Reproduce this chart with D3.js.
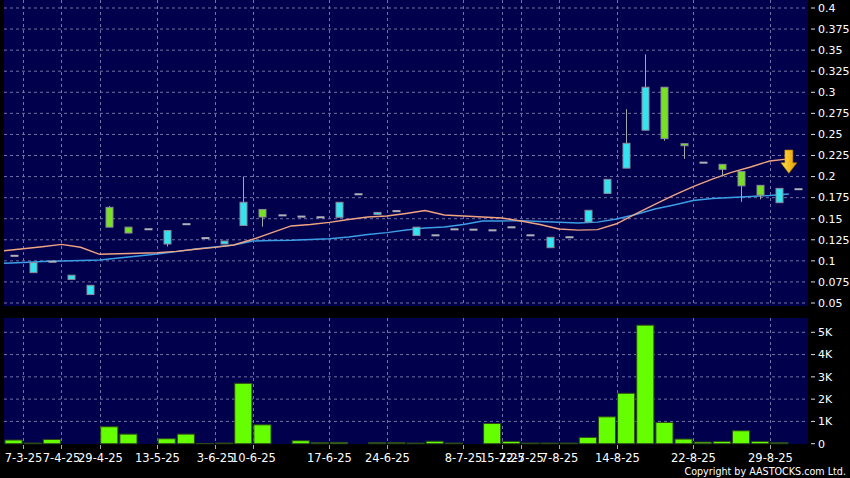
<!DOCTYPE html>
<html><head><meta charset="utf-8">
<script src="https://cdn.jsdelivr.net/npm/d3@7"></script>
<style>html,body{margin:0;padding:0;background:#000;} svg{display:block;}</style>
</head><body>
<svg id="c" width="850" height="478"></svg>
<script>
// ---- data ----
const categories = ["1","2","3","4","5","6","7","8","9","10","11","12","13","14","15","16","17","18","19","20","21",
  "22","23","24","25","26","27","28","29","30","31","32","33","34","35","36","37","38","39","40","41","42"];
const openP  = [0.106,0.086,0.099,0.078,0.060,0.1635,0.140,0.1375,0.120,0.1435,0.127,0.120,0.142,0.161,0.154,0.1525,0.1517,0.1517,0.179,0.1555,0.159,
  0.130,0.1303,0.1374,0.137,0.1362,0.1398,0.1303,0.1156,0.128,0.146,0.180,0.210,0.255,0.306,0.239,0.2165,0.2145,0.206,0.1896,0.169,0.185];
const highP  = [0.106,0.098,0.099,0.083,0.071,0.165,0.140,0.1375,0.136,0.1435,0.127,0.1235,0.200,0.161,0.154,0.1525,0.1517,0.1695,0.179,0.1575,0.159,
  0.140,0.1303,0.1374,0.137,0.1362,0.1398,0.1303,0.128,0.128,0.160,0.1967,0.280,0.345,0.306,0.239,0.2165,0.2145,0.206,0.1896,0.186,0.185];
const lowP   = [0.106,0.086,0.099,0.078,0.060,0.140,0.133,0.1375,0.117,0.1435,0.127,0.120,0.142,0.1406,0.154,0.1525,0.1517,0.1517,0.179,0.1555,0.159,
  0.130,0.1303,0.1374,0.137,0.1362,0.1398,0.1303,0.1156,0.128,0.146,0.180,0.210,0.255,0.2425,0.221,0.2165,0.200,0.170,0.173,0.169,0.185];
const closeP = [0.106,0.098,0.099,0.083,0.071,0.140,0.133,0.1375,0.136,0.1435,0.127,0.1235,0.1695,0.152,0.154,0.1525,0.1517,0.1695,0.179,0.1575,0.159,
  0.140,0.1303,0.1374,0.137,0.1362,0.1398,0.1303,0.128,0.128,0.160,0.1967,0.2395,0.306,0.245,0.2366,0.2165,0.2086,0.189,0.178,0.186,0.185];
const volume = [165,30,190,0,0,760,430,0,223,430,10,30,2710,848,0,134,45,60,0,45,45,
  30,110,30,0,906,103,30,30,30,283,1205,2263,5320,952,208,74,103,580,103,45,0];
const maOrange = [0.112,0.1144,0.1168,0.1196,0.1161,0.1078,0.1085,0.109,0.1097,0.1113,0.1137,0.116,0.1188,0.1256,0.1334,0.1414,0.1432,0.1456,0.1491,0.152,0.1532,
  0.1562,0.1597,0.1544,0.1532,0.152,0.1508,0.1473,0.1432,0.1378,0.1365,0.137,0.144,0.1556,0.167,0.178,0.188,0.197,0.205,0.2114,0.2185,0.221];
const maBlue = [0.0971,0.098,0.0992,0.0998,0.1004,0.101,0.1034,0.1057,0.1081,0.111,0.114,0.1164,0.1188,0.1236,0.1242,0.1244,0.1253,0.1263,0.1283,0.1312,0.1335,
  0.1366,0.139,0.1402,0.1432,0.1473,0.1473,0.1477,0.1467,0.1458,0.145,0.146,0.1497,0.155,0.1615,0.1663,0.1716,0.174,0.1752,0.1764,0.1775,0.1793];
const tickBars   = ["2","4","6","9","12","14","18","21","25","27","28","30","33","37","41"];
const tickLabels = ["7-3-25","7-4-25","29-4-25","13-5-25","3-6-25","10-6-25","17-6-25","24-6-25","8-7-25","15-7-25","22-7-25","7-8-25","14-8-25","22-8-25","29-8-25"];
const priceTicks = [0.05,0.075,0.1,0.125,0.15,0.175,0.2,0.225,0.25,0.275,0.3,0.325,0.35,0.375,0.4];
const volTicks = [0,1000,2000,3000,4000,5000];
const volTickLabels = ["0","1K","2K","3K","4K","5K"];
const signalBar = "42";
const signalTop = 0.2315, signalTip = 0.204;

// ---- layout ----
const svg = d3.select("#c");
const NAVY = "#00004c", GRID = "#7272a6";
const x = d3.scaleBand().domain(categories).range([4, 808]);
const y = d3.scaleLinear().domain([0.05, 0.4]).range([303, 8]);
const yv = d3.scaleLinear().domain([0, 5000]).range([443.7, 332.3]);
const bw = x.bandwidth();
const cx = c => x(c) + bw / 2;

svg.append("rect").attr("width", 850).attr("height", 478).attr("fill", "#000");
svg.append("rect").attr("x", 4).attr("y", 0).attr("width", 804).attr("height", 306).attr("fill", NAVY);
svg.append("rect").attr("x", 4).attr("y", 318).attr("width", 804).attr("height", 126).attr("fill", NAVY);

const font = "DejaVu Sans, sans-serif";
// horizontal grid + right axis (price)
priceTicks.forEach(v => {
  svg.append("line").attr("x1", 4).attr("x2", 808).attr("y1", y(v)).attr("y2", y(v))
    .attr("stroke", GRID).attr("stroke-dasharray", "3,3").attr("stroke-width", 1);
  svg.append("line").attr("x1", 811).attr("x2", 815).attr("y1", y(v)).attr("y2", y(v)).attr("stroke", "#ddd");
  svg.append("text").attr("x", 818).attr("y", y(v)).attr("dy", "0.35em").attr("fill", "#fff")
    .attr("font-family", font).attr("font-size", 11).text(String(+v.toFixed(3)));
});
volTicks.forEach((v, i) => {
  if (v > 0) svg.append("line").attr("x1", 4).attr("x2", 808).attr("y1", yv(v)).attr("y2", yv(v))
    .attr("stroke", GRID).attr("stroke-dasharray", "3,3");
  svg.append("line").attr("x1", 811).attr("x2", 815).attr("y1", yv(v)).attr("y2", yv(v)).attr("stroke", "#ddd");
  svg.append("text").attr("x", 818).attr("y", yv(v)).attr("dy", "0.35em").attr("fill", "#fff")
    .attr("font-family", font).attr("font-size", 11).text(volTickLabels[i]);
});
// vertical grid + x labels
tickBars.forEach((b, i) => {
  const gx = Math.round(x(b)) + 0.5;
  svg.append("line").attr("x1", gx).attr("x2", gx).attr("y1", 0).attr("y2", 306)
    .attr("stroke", GRID).attr("stroke-dasharray", "3,3");
  svg.append("line").attr("x1", gx).attr("x2", gx).attr("y1", 318).attr("y2", 444)
    .attr("stroke", GRID).attr("stroke-dasharray", "3,3");
  svg.append("line").attr("x1", gx).attr("x2", gx).attr("y1", 445).attr("y2", 449).attr("stroke", "#aaa");
  svg.append("text").attr("x", gx).attr("y", 462).attr("text-anchor", "middle").attr("fill", "#fff")
    .attr("font-family", font).attr("font-size", 11.5).text(tickLabels[i]);
});

// volume bars
svg.append("g").selectAll("rect").data(categories).join("rect")
  .attr("x", c => x(c) + 1).attr("width", bw - 2)
  .attr("y", (c, i) => yv(volume[i])).attr("height", (c, i) => yv(0) - yv(volume[i]))
  .attr("fill", "#66ff00").attr("stroke", "#2c4a18").attr("stroke-width", 1);

// MA lines
const line = arr => d3.line().x(c => x(c)).y((c, i) => y(arr[i]))(categories);
svg.append("path").attr("d", line(maBlue)).attr("fill", "none").attr("stroke", "#3c9fe6").attr("stroke-width", 1.4);
svg.append("path").attr("d", line(maOrange)).attr("fill", "none").attr("stroke", "#f0a482").attr("stroke-width", 1.4);

// candles
const bodyW = 7;
const cg = svg.append("g");
categories.forEach((c, i) => {
  const o = openP[i], h = highP[i], l = lowP[i], cl = closeP[i];
  const xc = Math.round(cx(c));
  if (h > Math.max(o, cl) || l < Math.min(o, cl))
    cg.append("line").attr("x1", xc + 0.5).attr("x2", xc + 0.5).attr("y1", y(h)).attr("y2", y(l))
      .attr("stroke", "#a8a8a8").attr("stroke-width", 1);
  if (o === cl) {
    cg.append("rect").attr("x", xc - bodyW / 2).attr("y", y(o) - 1).attr("width", bodyW + 1).attr("height", 2)
      .attr("fill", "#b0b0b8");
  } else {
    const top = y(Math.max(o, cl)), bot = y(Math.min(o, cl));
    cg.append("rect").attr("x", xc - bodyW / 2 + 0.5).attr("y", top).attr("width", bodyW).attr("height", Math.max(bot - top, 2))
      .attr("fill", cl > o ? "#33e3f0" : "#78e024").attr("stroke", "#8a8a9a").attr("stroke-width", 1);
  }
});

// signal arrow
const defs = svg.append("defs");
const gr = defs.append("linearGradient").attr("id", "gold").attr("x1", 0).attr("x2", 1).attr("y1", 0).attr("y2", 0);
gr.append("stop").attr("offset", "0%").attr("stop-color", "#ffe34a");
gr.append("stop").attr("offset", "100%").attr("stop-color", "#e59a00");
const ax = x(signalBar), at = y(signalTop), ab = y(signalTip), hs = at + (ab - at) * 0.55;
svg.append("path").attr("d", `M${ax - 4},${at} L${ax + 4},${at} L${ax + 4},${hs} L${ax + 8},${hs} L${ax},${ab} L${ax - 8},${hs} L${ax - 4},${hs} Z`)
  .attr("fill", "url(#gold)").attr("stroke", "#c07a00").attr("stroke-width", 0.6);

svg.append("text").attr("x", 846).attr("y", 475).attr("text-anchor", "end").attr("fill", "#fff")
  .attr("font-family", font).attr("font-size", 9.6).text("Copyright by AASTOCKS.com Ltd.");
</script>
</body></html>
